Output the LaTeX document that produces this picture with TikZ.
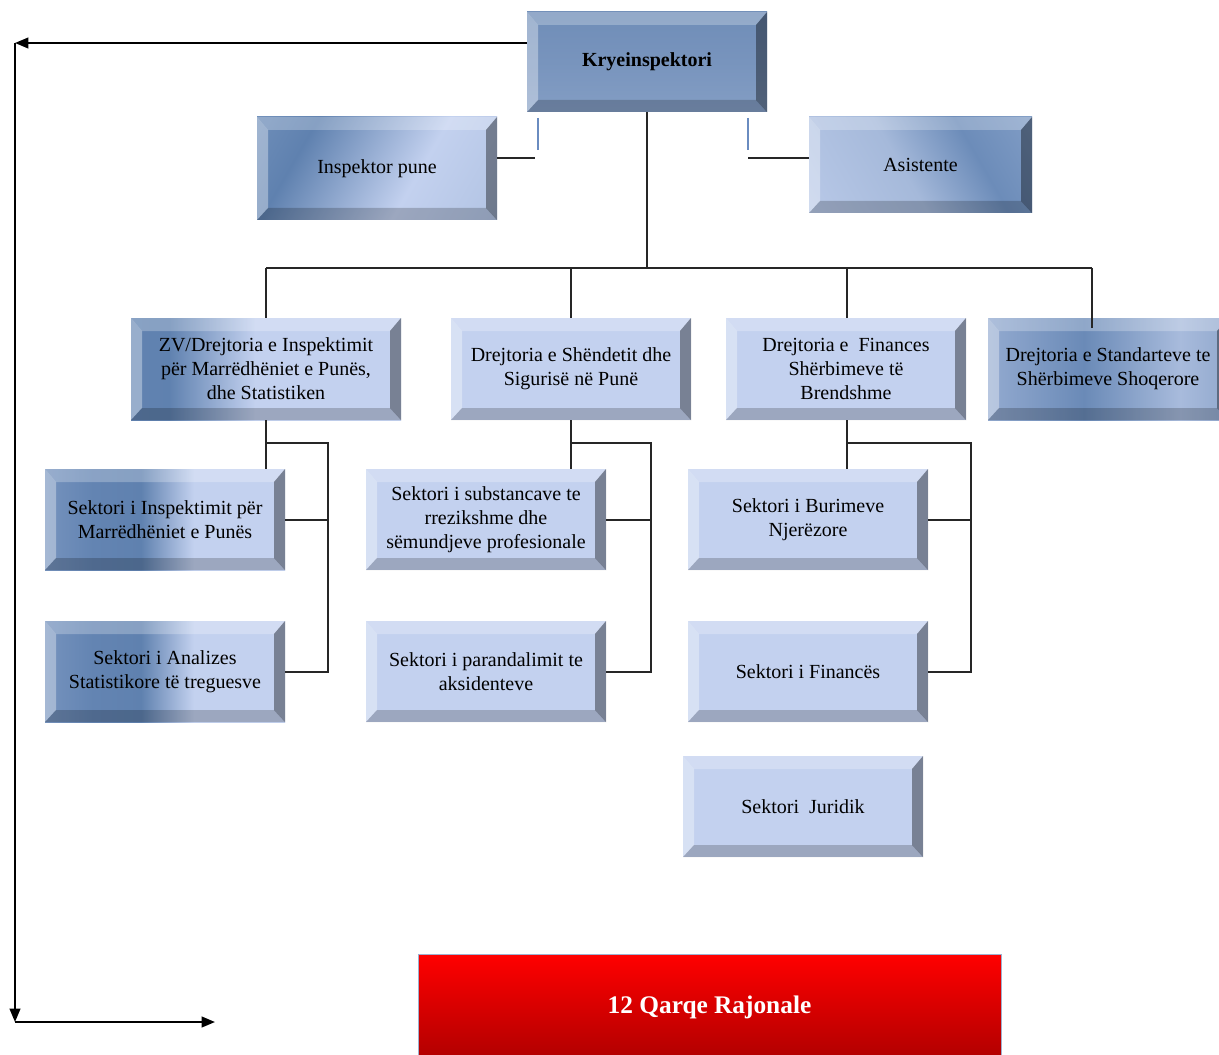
\documentclass[tikz,border=0pt]{standalone}
\usepackage{fontspec}
\setmainfont{Liberation Serif}
\usetikzlibrary{arrows.meta}
\definecolor{lb}{HTML}{C3D1EF}
\definecolor{db}{HTML}{5F81AF}
\definecolor{kA}{HTML}{6686B2}
\definecolor{kB}{HTML}{7894BD}
\definecolor{kC}{HTML}{8FA7CB}
\definecolor{iA}{HTML}{7F9CC4}
\definecolor{iC}{HTML}{A6BADB}
\definecolor{aA}{HTML}{A5B9DA}
\definecolor{aB}{HTML}{6C8CB9}
\definecolor{aC}{HTML}{92ABD0}
\definecolor{sA}{HTML}{A3B7DA}
\definecolor{sB}{HTML}{6384B2}
\definecolor{zA}{HTML}{96AED3}
\definecolor{tA}{HTML}{BACAE8}
\definecolor{tB}{HTML}{9DB2D6}
\definecolor{tC}{HTML}{6A8AB7}
\definecolor{tD}{HTML}{A8BBDC}
\definecolor{tE}{HTML}{7B96BF}
\definecolor{tF}{HTML}{8EA6CD}
\definecolor{redA}{HTML}{FF0000}
\definecolor{redB}{HTML}{B00000}
\definecolor{redline}{HTML}{9FB0CF}
\definecolor{blueline}{HTML}{6A8CC0}
\pgfdeclareverticalshading{krysh}{100bp}{color(0bp)=(kC); color(50bp)=(kB); color(100bp)=(kA)}
\pgfdeclarehorizontalshading{inspsh}{100bp}{color(0bp)=(iA); color(30bp)=(db); color(60bp)=(lb); color(100bp)=(iC)}
\pgfdeclarehorizontalshading{asissh}{100bp}{color(0bp)=(lb); color(45bp)=(aA); color(65bp)=(aB); color(100bp)=(aC)}
\pgfdeclarehorizontalshading{sektsh}{100bp}{color(0bp)=(sA); color(35bp)=(sB); color(45bp)=(db); color(56bp)=(lb); color(100bp)=(lb)}
\pgfdeclarehorizontalshading{zvsh}{100bp}{color(0bp)=(zA); color(22bp)=(sB); color(32bp)=(db); color(48bp)=(lb); color(100bp)=(lb)}
\pgfdeclarehorizontalshading{stdsh}{100bp}{color(0bp)=(tA); color(20bp)=(tB); color(45bp)=(tC); color(65bp)=(tD); color(85bp)=(tE); color(100bp)=(tF)}
\newcommand\bxfont{\fontsize{15}{18}\selectfont}
\tikzset{
  bev/.style={rectangle, inner sep=0pt, align=center, text=black, font=\bxfont,
    minimum width=180pt, minimum height=76.5pt, fill=lb,
    path picture={
      \fill[white,opacity=.25] (path picture bounding box.north west) -- (path picture bounding box.north east) -- ([shift={(-8.25pt,-9.75pt)}]path picture bounding box.north east) -- ([shift={(8.25pt,-9.75pt)}]path picture bounding box.north west) -- cycle;
      \fill[white,opacity=.35] (path picture bounding box.north west) -- ([shift={(8.25pt,-9.75pt)}]path picture bounding box.north west) -- ([shift={(8.25pt,9pt)}]path picture bounding box.south west) -- (path picture bounding box.south west) -- cycle;
      \fill[black,opacity=.38] (path picture bounding box.north east) -- (path picture bounding box.south east) -- ([shift={(-8.25pt,9pt)}]path picture bounding box.south east) -- ([shift={(-8.25pt,-9.75pt)}]path picture bounding box.north east) -- cycle;
      \fill[black,opacity=.2] (path picture bounding box.south west) -- ([shift={(8.25pt,9pt)}]path picture bounding box.south west) -- ([shift={(-8.25pt,9pt)}]path picture bounding box.south east) -- (path picture bounding box.south east) -- cycle;
    }},
  conn/.style={draw=black!85, line width=1.5pt},
  arr/.style={draw=black, line width=1.5pt, -{Triangle[length=10pt,width=8pt]}},
  bluemark/.style={draw=blueline, line width=1pt},
}
\begin{document}
\begin{tikzpicture}[x=0.75pt, y=-0.75pt]
\useasboundingbox (0,0) rectangle (1219,1055);
\clip (0,0) rectangle (1219,1055);
\fill[white] (0,0) rectangle (1219,1055);

% top level
\node[bev, shading=krysh, minimum width=180pt, minimum height=75pt] (kry) at (647,62) {\textbf{Kryeinspektori}};
\node[bev, shading=inspsh, shading angle=-30, minimum height=77.25pt] (insp) at (377,168.5) {Inspektor pune};
\node[bev, shading=asissh, shading angle=30, minimum width=167.25pt, minimum height=72pt] (asis) at (920.5,165) {Asistente};

% second level
\node[bev, shading=zvsh, minimum width=202.5pt] (zv) at (266,369) {ZV/Drejtoria e Inspektimit\\për Marrëdhëniet e Punës,\\dhe Statistiken};
\node[bev] (shen) at (571,369) {Drejtoria e Shëndetit dhe\\Sigurisë në Punë};
\node[bev] (fin) at (846,369) {Drejtoria e\ \ Finances\\Shërbimeve të\\Brendshme};
\node[bev, shading=stdsh] (std) at (1108,369) {Drejtoria e Standarteve te\\Shërbimeve Shoqerore};

% third level
\node[bev, shading=sektsh, minimum height=75.75pt] (sinsp) at (165,519.5) {Sektori i Inspektimit për\\Marrëdhëniet e Punës};
\node[bev, shading=sektsh, minimum height=75.75pt] (sanal) at (165,671.5) {Sektori i Analizes\\Statistikore të treguesve};
\node[bev, minimum height=75.75pt] (ssub) at (486,519.5) {Sektori i substancave te\\rrezikshme dhe\\sëmundjeve profesionale};
\node[bev, minimum height=75.75pt] (spar) at (486,671.5) {Sektori i parandalimit te\\aksidenteve};
\node[bev, minimum height=75.75pt] (sbur) at (808,519.5) {Sektori i Burimeve\\Njerëzore};
\node[bev, minimum height=75.75pt] (sfin) at (808,671.5) {Sektori i Financës};
\node[bev, minimum height=75.75pt] (sjur) at (803,806.5) {Sektori\ \ Juridik};

% red box
\node[rectangle, draw=redline, line width=0.6pt, top color=redA, bottom color=redB,
      minimum width=437.25pt, minimum height=79.5pt, inner sep=0pt,
      text=white, font=\bfseries\fontsize{19}{22}\selectfont] (red) at (709.5,1007) {12 Qarqe Rajonale};

% coordinates
\coordinate (b1) at (266,268);
\coordinate (b2) at (571,268);
\coordinate (b3) at (847,268);
\coordinate (b4) at (1092,268);
\coordinate (j1) at (266,443);
\coordinate (k1) at (328,443);
\coordinate (j2) at (571,443);
\coordinate (k2) at (651,443);
\coordinate (j3) at (847,443);
\coordinate (k3) at (971,443);
\coordinate (c1) at (15,43);
\coordinate (c2) at (15,1022);
\coordinate (c3) at (215,1022);
\coordinate (m1a) at (538,118);
\coordinate (m1b) at (538,150);
\coordinate (m1c) at (535,158);
\coordinate (m2a) at (748,118);
\coordinate (m2b) at (748,150);
\coordinate (m2c) at (748,158);

% trunk and bus
\draw[conn] (kry.south) -- (kry.south |- b1);
\draw[conn] (b1) -- (b4);
\draw[conn] (b1) -- (b1 |- zv.north);
\draw[conn] (b2) -- (b2 |- shen.north);
\draw[conn] (b3) -- (b3 |- fin.north);
\draw[conn] (b4) -- ([yshift=-7.5pt]b4 |- std.north);

% assistants
\draw[bluemark] (m1a) -- (m1b);
\draw[bluemark] (m2a) -- (m2b);
\draw[conn] ([yshift=7.875pt]insp.east) -- (m1c);
\draw[conn] (m2c) -- ([yshift=5.25pt]asis.west);

% sub groups
\draw[conn] (zv.south) -- (zv.south |- sinsp.north);
\draw[conn] (j1) -- (k1) -- (k1 |- sanal.east) -- (sanal.east);
\draw[conn] (sinsp.east) -- (sinsp.east -| k1);
\draw[conn] (shen.south) -- (shen.south |- ssub.north);
\draw[conn] (j2) -- (k2) -- (k2 |- spar.east) -- (spar.east);
\draw[conn] (ssub.east) -- (ssub.east -| k2);
\draw[conn] (b3 |- fin.south) -- (b3 |- sbur.north);
\draw[conn] (j3) -- (k3) -- (k3 |- sfin.east) -- (sfin.east);
\draw[conn] (sbur.east) -- (sbur.east -| k3);

% left arrows
\draw[arr] ([yshift=14.25pt]kry.west) -- (c1);
\draw[arr] (c1) -- (c2);
\draw[arr] (c2) -- (c3);
\end{tikzpicture}
\end{document}
